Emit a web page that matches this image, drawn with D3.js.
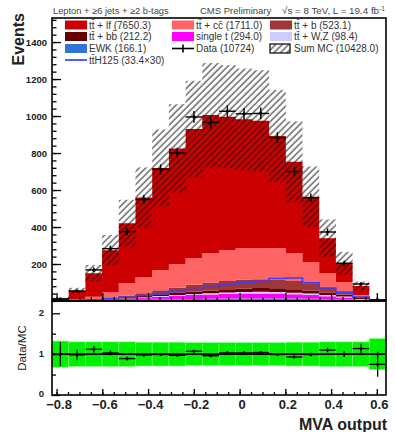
<!DOCTYPE html>
<html>
<head>
<meta charset="utf-8">
<script src="https://cdn.jsdelivr.net/npm/d3@7"></script>
<style>
  body { margin: 0; background: #fff; }
  text { font-family: "Liberation Sans", Arial, Helvetica, sans-serif; }
</style>
</head>
<body>
<div class="mva_chart"></div>
<script>
// bin edges of the MVA output histogram
var bin_edges = [-0.82, -0.747, -0.674, -0.601, -0.528, -0.455, -0.382, -0.309, -0.236, -0.163,
  -0.09, -0.017, 0.056, 0.129, 0.202, 0.275, 0.348, 0.421, 0.494, 0.567, 0.64];

// stacked backgrounds, bottom to top
var ewk      = [0, 1, 2, 3, 5, 7, 9, 10, 11, 12, 13, 14, 14, 14, 13, 12, 10, 7, 3, 1];
var single_t = [0, 1, 2, 4, 7, 10, 14, 18, 21, 23, 25, 26, 27, 26, 24, 21, 16, 12, 5, 1];
var tt_wz    = [0, 0, 1, 1, 2, 3, 4, 5, 6, 7, 8, 9, 9, 9, 8, 7, 6, 5, 3, 1];
var tt_bb    = [0, 1, 2, 3, 5, 7, 9, 11, 13, 15, 17, 19, 20, 20, 19, 17, 14, 11, 5, 1];
var tt_b     = [1, 1, 3, 7, 11, 15, 22, 28, 37, 43, 45, 47, 48, 47, 44, 35, 24, 15, 5, 1];
var tt_cc    = [1, 4, 13, 31, 67, 88, 110, 128, 144, 159, 168, 171, 168, 170, 151, 119, 81, 53, 12, 1];
var tt_lf    = [10, 47, 127, 226, 324, 430, 551, 625, 698, 746, 720, 696, 689, 606, 494, 353, 188, 101, 48, 2];

// signal shape (x30), drawn as a line
var tth_x30  = [1, 3, 7, 13, 20, 30, 40, 52, 62, 74, 86, 98, 106, 122, 124, 98, 70, 48, 22, 4];

// observed data
var data_obs = [12, 54, 168, 283, 375, 549, 712, 800, 995, 965, 1026, 1012, 1014, 883, 700, 558, 373, 204, 92, 6];

// relative MC uncertainty per bin
var mc_rel_err = [0.32, 0.30, 0.30, 0.30, 0.30, 0.29, 0.29, 0.29, 0.28, 0.28,
  0.28, 0.28, 0.28, 0.28, 0.29, 0.29, 0.30, 0.30, 0.30, 0.38];

var y_ticks = [200, 400, 600, 800, 1000, 1200, 1400];
var x_ticks = [-0.8, -0.6, -0.4, -0.2, 0, 0.2, 0.4, 0.6];
var ratio_ticks = [0, 1, 2];

var legend_entries = [
  {label: "tt\u0304 + lf (7650.3)", color: "#cc0000", kind: "box", col: 0, row: 0},
  {label: "tt\u0304 + bb\u0304 (212.2)", color: "#660000", kind: "box", col: 0, row: 1},
  {label: "EWK (166.1)", color: "#2f74d6", kind: "box", col: 0, row: 2},
  {label: "tt\u0304H125 (33.4\u00d730)", color: "#5a5aff", kind: "line", col: 0, row: 3},
  {label: "tt\u0304 + cc\u0304 (1711.0)", color: "#ff6464", kind: "box", col: 1, row: 0},
  {label: "single t (294.0)", color: "#ff00ff", kind: "box", col: 1, row: 1},
  {label: "Data (10724)", color: "#000", kind: "data", col: 1, row: 2},
  {label: "tt\u0304 + b (523.1)", color: "#a03636", kind: "box", col: 2, row: 0},
  {label: "tt\u0304 + W,Z (98.4)", color: "#ccccff", kind: "box", col: 2, row: 1},
  {label: "Sum MC (10428.0)", color: "none", kind: "hatch", col: 2, row: 2}
];

var layer_keys = ["ewk", "single_t", "tt_wz", "tt_bb", "tt_b", "tt_cc", "tt_lf"];
var layer_colors = {
  ewk: "#3a82e0", single_t: "#ff00ff", tt_wz: "#ccccff", tt_bb: "#660000",
  tt_b: "#a03636", tt_cc: "#ff6464", tt_lf: "#cc0000"
};

var width = 395, height = 432;
var left = 52, right = 386, top_y = 18, split_y = 301, bottom_y = 395;

var svg = d3.select(".mva_chart").append("svg")
  .attr("width", width)
  .attr("height", height);

var defs = svg.append("defs");
var pat = defs.append("pattern")
  .attr("id", "hatch")
  .attr("patternUnits", "userSpaceOnUse")
  .attr("width", 4.6)
  .attr("height", 4.6)
  .attr("patternTransform", "rotate(45)");
pat.append("line")
  .attr("x1", 1).attr("y1", 0).attr("x2", 1).attr("y2", 4.6)
  .attr("stroke", "#111").attr("stroke-width", 0.95);

var x_scale = d3.scaleLinear().domain([-0.82, 0.64]).range([left, right]);
var y_scale = d3.scaleLinear().domain([0, 1530]).range([split_y, top_y]);
var r_scale = d3.scaleLinear().domain([0, 2.3]).range([bottom_y, split_y]);

// per-bin rows
var rows = bin_edges.slice(0, -1).map(function (lo, i) {
  var row = {lo: lo, hi: bin_edges[i + 1], i: i,
    ewk: ewk[i], single_t: single_t[i], tt_wz: tt_wz[i], tt_bb: tt_bb[i],
    tt_b: tt_b[i], tt_cc: tt_cc[i], tt_lf: tt_lf[i], data: data_obs[i], err: mc_rel_err[i]};
  row.mc = layer_keys.reduce(function (s, k) { return s + row[k]; }, 0);
  return row;
});

// ---------- upper panel ----------
var upper = svg.append("g");

var stack = d3.stack().keys(layer_keys)(rows);
var area = d3.area()
  .x(function (d) { return x_scale(d.x); })
  .y0(function (d) { return y_scale(d.y0); })
  .y1(function (d) { return y_scale(d.y1); })
  .curve(d3.curveStepAfter);

stack.forEach(function (layer) {
  var pts = layer.map(function (s, i) { return {x: rows[i].lo, y0: s[0], y1: s[1]}; });
  var last = layer[layer.length - 1];
  pts.push({x: bin_edges[bin_edges.length - 1], y0: last[0], y1: last[1]});
  upper.append("path")
    .attr("d", area(pts))
    .attr("fill", layer_colors[layer.key]);
});

// signal line
var sig_pts = rows.map(function (r, i) { return [r.lo, tth_x30[i]]; });
sig_pts.push([bin_edges[bin_edges.length - 1], tth_x30[tth_x30.length - 1]]);
upper.append("path")
  .attr("d", d3.line()
    .x(function (d) { return x_scale(d[0]); })
    .y(function (d) { return y_scale(d[1]); })
    .curve(d3.curveStepAfter)(sig_pts))
  .attr("fill", "none")
  .attr("stroke", "#3c3cff")
  .attr("stroke-width", 1.6);

// MC uncertainty (hatched)
upper.selectAll("rect.unc")
  .data(rows)
  .enter()
  .append("rect")
    .attr("class", "unc")
    .attr("x", function (d) { return x_scale(d.lo); })
    .attr("width", function (d) { return x_scale(d.hi) - x_scale(d.lo); })
    .attr("y", function (d) { return y_scale(d.mc * (1 + d.err)); })
    .attr("height", function (d) { return y_scale(d.mc * (1 - d.err)) - y_scale(d.mc * (1 + d.err)); })
    .attr("fill", "url(#hatch)");

// data points
var pts = upper.selectAll("g.pt").data(rows).enter().append("g").attr("class", "pt");
pts.append("line")
  .attr("x1", function (d) { return x_scale(d.lo); })
  .attr("x2", function (d) { return x_scale(d.hi); })
  .attr("y1", function (d) { return y_scale(d.data); })
  .attr("y2", function (d) { return y_scale(d.data); })
  .attr("stroke", "#000").attr("stroke-width", 1.4);
pts.append("line")
  .attr("x1", function (d) { return x_scale((d.lo + d.hi) / 2); })
  .attr("x2", function (d) { return x_scale((d.lo + d.hi) / 2); })
  .attr("y1", function (d) { return y_scale(d.data + Math.sqrt(d.data)); })
  .attr("y2", function (d) { return y_scale(Math.max(0, d.data - Math.sqrt(d.data))); })
  .attr("stroke", "#000").attr("stroke-width", 1.4);
pts.append("circle")
  .attr("cx", function (d) { return x_scale((d.lo + d.hi) / 2); })
  .attr("cy", function (d) { return y_scale(d.data); })
  .attr("r", 1.6)
  .attr("fill", "#000");

// axes upper
var ax_major = upper.append("g")
  .attr("transform", "translate(" + left + ",0)")
  .call(d3.axisLeft(y_scale).tickValues(y_ticks).tickSize(-9).tickPadding(5).tickFormat(d3.format("d")));
var ax_minor = upper.append("g")
  .attr("transform", "translate(" + left + ",0)")
  .call(d3.axisLeft(y_scale).tickValues(d3.range(0, 1521, 40)).tickSize(-4.5).tickFormat(""));
var ax_xu = upper.append("g")
  .attr("transform", "translate(0," + split_y + ")")
  .call(d3.axisBottom(x_scale).tickValues(x_ticks).tickSize(-8).tickFormat(""));
var ax_xu_minor = upper.append("g")
  .attr("transform", "translate(0," + split_y + ")")
  .call(d3.axisBottom(x_scale).tickValues(d3.range(-0.8, 0.62, 0.05)).tickSize(-4).tickFormat(""));

// ---------- lower panel ----------
var lower = svg.append("g");

lower.selectAll("rect.band")
  .data(rows)
  .enter()
  .append("rect")
    .attr("class", "band")
    .attr("x", function (d) { return x_scale(d.lo); })
    .attr("width", function (d) { return x_scale(d.hi) - x_scale(d.lo); })
    .attr("y", function (d) { return r_scale(1 + d.err); })
    .attr("height", function (d) { return r_scale(1 - d.err) - r_scale(1 + d.err); })
    .attr("fill", "#00f000")
    .attr("stroke", "#7dff7d")
    .attr("stroke-width", 0.6);

lower.append("line")
  .attr("x1", left).attr("x2", right)
  .attr("y1", r_scale(1)).attr("y2", r_scale(1))
  .attr("stroke", "#000").attr("stroke-width", 1.6);

var rpts = lower.selectAll("g.rpt").data(rows).enter().append("g").attr("class", "rpt");
rpts.append("line")
  .attr("x1", function (d) { return x_scale(d.lo); })
  .attr("x2", function (d) { return x_scale(d.hi); })
  .attr("y1", function (d) { return r_scale(d.data / d.mc); })
  .attr("y2", function (d) { return r_scale(d.data / d.mc); })
  .attr("stroke", "#000").attr("stroke-width", 1.3);
rpts.append("line")
  .attr("x1", function (d) { return x_scale((d.lo + d.hi) / 2); })
  .attr("x2", function (d) { return x_scale((d.lo + d.hi) / 2); })
  .attr("y1", function (d) { return r_scale((d.data + Math.sqrt(d.data)) / d.mc); })
  .attr("y2", function (d) { return r_scale((d.data - Math.sqrt(d.data)) / d.mc); })
  .attr("stroke", "#000").attr("stroke-width", 1.3);
rpts.append("circle")
  .attr("cx", function (d) { return x_scale((d.lo + d.hi) / 2); })
  .attr("cy", function (d) { return r_scale(d.data / d.mc); })
  .attr("r", 1.4)
  .attr("fill", "#000");

var ax_r = lower.append("g")
  .attr("transform", "translate(" + left + ",0)")
  .call(d3.axisLeft(r_scale).tickValues(ratio_ticks).tickSize(-8).tickPadding(8).tickFormat(d3.format("d")));
var ax_r_minor = lower.append("g")
  .attr("transform", "translate(" + left + ",0)")
  .call(d3.axisLeft(r_scale).tickValues([0.5, 1.5]).tickSize(-4).tickFormat(""));
var ax_xl = lower.append("g")
  .attr("transform", "translate(0," + bottom_y + ")")
  .call(d3.axisBottom(x_scale).tickValues(x_ticks).tickSize(-6).tickPadding(5)
    .tickFormat(function (d) { return d3.format("")(Math.round(d * 10) / 10); }));
var ax_xl_minor = lower.append("g")
  .attr("transform", "translate(0," + bottom_y + ")")
  .call(d3.axisBottom(x_scale).tickValues(d3.range(-0.8, 0.62, 0.05)).tickSize(-3).tickFormat(""));

[ax_major, ax_minor, ax_xu, ax_xu_minor, ax_r, ax_r_minor, ax_xl, ax_xl_minor].forEach(function (a) {
  a.select(".domain").remove();
  a.selectAll(".tick line").attr("stroke", "#000").attr("stroke-width", 1.3);
});
ax_major.selectAll("text").attr("font-size", 9.5).attr("font-weight", "bold").attr("fill", "#222")
  .attr("font-family", "Liberation Sans, Arial, sans-serif");
ax_r.selectAll("text").attr("font-size", 9.5).attr("font-weight", "bold").attr("fill", "#222")
  .attr("dy", "0.2em")
  .attr("font-family", "Liberation Sans, Arial, sans-serif");
ax_xl.selectAll("text").attr("font-size", 13).attr("font-weight", "bold").attr("fill", "#222")
  .attr("dx", 2)
  .attr("font-family", "Liberation Sans, Arial, sans-serif");

// frames
svg.append("rect")
  .attr("x", left).attr("y", top_y)
  .attr("width", right - left).attr("height", split_y - top_y)
  .attr("fill", "none").attr("stroke", "#000").attr("stroke-width", 1.6);
svg.append("rect")
  .attr("x", left).attr("y", split_y)
  .attr("width", right - left).attr("height", bottom_y - split_y)
  .attr("fill", "none").attr("stroke", "#000").attr("stroke-width", 1.6);

// axis titles
svg.append("text")
  .attr("transform", "translate(24,13) rotate(-90)")
  .attr("text-anchor", "end")
  .attr("font-size", 16).attr("font-weight", "bold").attr("fill", "#222")
  .text("Events");
svg.append("text")
  .attr("transform", "translate(26,348) rotate(-90)")
  .attr("text-anchor", "middle")
  .attr("font-size", 11.5).attr("fill", "#222")
  .text("Data/MC");
svg.append("text")
  .attr("x", 387).attr("y", 429.5)
  .attr("text-anchor", "end")
  .attr("font-size", 16).attr("font-weight", "bold").attr("fill", "#222")
  .text("MVA output");

// header
svg.append("text")
  .attr("x", 53).attr("y", 14)
  .attr("font-size", 9.3).attr("fill", "#444")
  .text("Lepton + \u22656 jets + \u22652 b-tags");
svg.append("text")
  .attr("x", 200).attr("y", 14)
  .attr("font-size", 9.5).attr("fill", "#444")
  .text("CMS Preliminary");
svg.append("text")
  .attr("x", 282).attr("y", 14)
  .attr("font-size", 9.8).attr("fill", "#444")
  .html("\u221As = 8 TeV, L = 19.4 fb<tspan dy='-3' font-size='6.5'>-1</tspan>");

// legend
var col_x = [65, 172, 270];
var row_y = [25, 36.5, 48.5, 60];
var legend = svg.append("g");
legend_entries.forEach(function (e) {
  var x0 = col_x[e.col], yc = row_y[e.row];
  if (e.kind === "box") {
    legend.append("rect")
      .attr("x", x0).attr("y", yc - 4.5).attr("width", 22).attr("height", 9)
      .attr("fill", e.color);
  } else if (e.kind === "line") {
    legend.append("line")
      .attr("x1", x0).attr("x2", x0 + 22).attr("y1", yc).attr("y2", yc)
      .attr("stroke", e.color).attr("stroke-width", 2);
  } else if (e.kind === "data") {
    legend.append("line")
      .attr("x1", x0).attr("x2", x0 + 22).attr("y1", yc).attr("y2", yc)
      .attr("stroke", "#000").attr("stroke-width", 1.6);
    legend.append("line")
      .attr("x1", x0 + 11).attr("x2", x0 + 11).attr("y1", yc - 4).attr("y2", yc + 4)
      .attr("stroke", "#000").attr("stroke-width", 1.6);
  } else if (e.kind === "hatch") {
    legend.append("rect")
      .attr("x", x0).attr("y", yc - 4.5).attr("width", 20).attr("height", 9)
      .attr("fill", "url(#hatch)").attr("stroke", "#000").attr("stroke-width", 1.2);
  }
  legend.append("text")
    .attr("x", x0 + 24).attr("y", yc + 3.5)
    .attr("font-size", 10).attr("fill", "#333")
    .text(e.label);
});
</script>
</body>
</html>
